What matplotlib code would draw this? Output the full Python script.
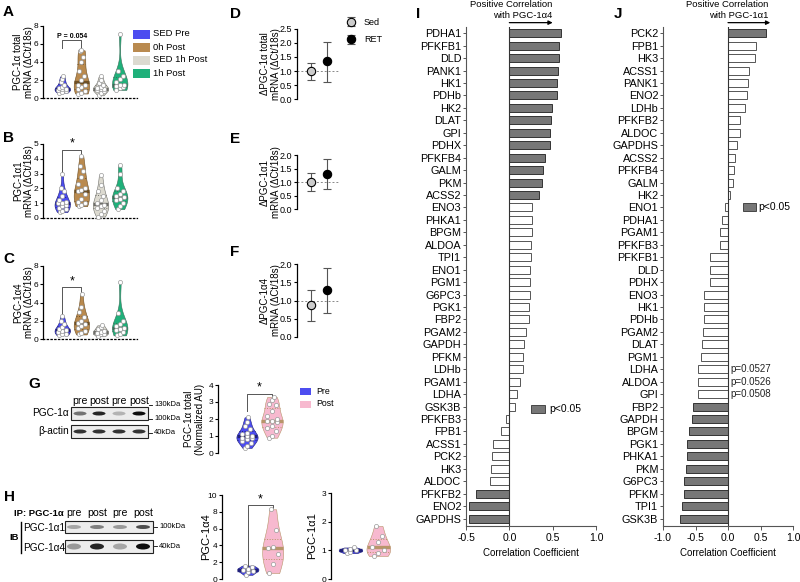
import numpy as np
import matplotlib
matplotlib.use("Agg")
import matplotlib.pyplot as plt
from matplotlib import mlab, cbook
from matplotlib.patches import Rectangle, Ellipse

plt.rcParams['font.family'] = ['Liberation Sans', 'DejaVu Sans']

# ---- qPCR violins (A-C), groups: SED Pre, 0h Post, SED 1h Post, 1h Post
group_names = ["SED Pre", "0h Post", "SED 1h Post", "1h Post"]
group_colors = ["#4d4df0", "#b98a4f", "#dcdad0", "#1fb07a"]
median_colors = ["#20207a", "#6e5026", "#6f6f6a", "#3d6e5a"]

a_total = [
    [0.6, 0.7, 0.8, 0.9, 1.0, 1.0, 1.1, 1.2, 1.5, 1.8, 2.1, 2.4],
    [0.5, 0.6, 0.8, 1.0, 1.2, 1.4, 1.5, 2.0, 2.5, 3.0, 4.0, 4.6, 5.2, 5.3],
    [0.3, 0.6, 0.8, 0.9, 1.0, 1.0, 1.1, 1.2, 1.4, 1.7, 2.0, 2.4],
    [0.9, 1.1, 1.2, 1.3, 1.4, 1.5, 1.8, 2.1, 2.5, 3.0, 7.1],
]
b_a1 = [
    [0.4, 0.5, 0.6, 0.7, 0.8, 0.9, 1.0, 1.0, 1.1, 1.2, 1.5, 1.8, 2.0, 3.0],
    [0.8, 0.9, 1.0, 1.1, 1.3, 1.6, 1.8, 1.9, 2.0, 2.3, 2.8, 3.2, 3.5, 4.2],
    [0.1, 0.3, 0.5, 0.7, 0.8, 0.9, 1.0, 1.2, 1.5, 1.8, 2.2, 2.9],
    [0.6, 0.8, 1.0, 1.2, 1.3, 1.4, 1.5, 1.6, 1.8, 2.0, 3.0, 3.6],
]
c_a4 = [
    [0.4, 0.5, 0.6, 0.8, 0.9, 1.0, 1.1, 1.3, 1.6, 2.0, 2.5],
    [0.5, 0.7, 0.9, 1.2, 1.4, 1.6, 1.8, 2.0, 2.4, 3.0, 3.5, 4.9],
    [0.3, 0.5, 0.6, 0.7, 0.8, 0.9, 1.1, 1.3, 1.5],
    [0.4, 0.6, 0.8, 1.0, 1.1, 1.2, 1.4, 1.6, 2.0, 2.9, 6.2],
]

# ---- delta mRNA (D-F): Sed, RET  (mean, lower, upper)
delta_mean = {"D": [1.0, 1.35], "E": [1.0, 1.3], "F": [0.87, 1.28]}
delta_low = {"D": [0.68, 0.62], "E": [0.68, 0.73], "F": [0.45, 0.67]}
delta_high = {"D": [1.3, 2.05], "E": [1.32, 1.87], "F": [1.28, 1.88]}

# ---- protein (G, H): Pre, Post
g_total = [
    [0.3, 0.4, 0.6, 0.7, 0.8, 0.9, 0.9, 1.0, 1.0, 1.1, 1.2, 1.4, 1.6, 1.8, 2.1],
    [0.9, 1.0, 1.3, 1.5, 1.6, 1.8, 1.9, 1.9, 2.0, 2.2, 2.5, 2.8, 2.9, 3.1, 3.3],
]
h_a4 = [[0.5, 0.8, 1.0, 1.1, 1.2, 1.4, 1.6], [0.7, 1.8, 3.0, 3.7, 3.8, 5.8, 8.3]]
h_a1 = [[0.9, 0.95, 1.0, 1.0, 1.05, 1.1], [0.8, 0.9, 1.0, 1.1, 1.3, 1.5, 1.85]]
pp_colors = ["#4d4df0", "#f7b9cf"]
pp_median = ["#20207a", "#b8956a"]

# blot band intensities (lanes: pre, post, pre, post)
g_pgc = [0.55, 0.85, 0.3, 0.95]
g_actin = [0.8, 0.8, 0.8, 0.8]
h_ib_a1 = [0.35, 0.5, 0.4, 0.7]
h_ib_a4 = [0.4, 0.85, 0.35, 0.95]

# ---- correlations (I: PGC-1a4, J: PGC-1a1)
i_genes = ["PDHA1", "PFKFB1", "DLD", "PANK1", "HK1", "PDHb", "HK2", "DLAT", "GPI", "PDHX",
           "PFKFB4", "GALM", "PKM", "ACSS2", "ENO3", "PHKA1", "BPGM", "ALDOA", "TPI1", "ENO1",
           "PGM1", "G6PC3", "PGK1", "FBP2", "PGAM2", "GAPDH", "PFKM", "LDHb", "PGAM1", "LDHA",
           "GSK3B", "PFKFB3", "FPB1", "ACSS1", "PCK2", "HK3", "ALDOC", "PFKFB2", "ENO2", "GAPDHS"]
i_r = [0.596, 0.577, 0.573, 0.558, 0.546, 0.546, 0.496, 0.477, 0.469, 0.469,
       0.415, 0.392, 0.373, 0.338, 0.265, 0.262, 0.258, 0.246, 0.246, 0.242,
       0.235, 0.235, 0.231, 0.223, 0.192, 0.173, 0.154, 0.154, 0.119, 0.092,
       0.069, -0.038, -0.096, -0.185, -0.204, -0.215, -0.223, -0.381, -0.465, -0.469]
i_sig = [1] * 14 + [0] * 23 + [1] * 3

j_genes = ["PCK2", "FPB1", "HK3", "ACSS1", "PANK1", "ENO2", "LDHb", "PFKFB2", "ALDOC", "GAPDHS",
           "ACSS2", "PFKFB4", "GALM", "HK2", "ENO1", "PDHA1", "PGAM1", "PFKFB3", "PFKFB1", "DLD",
           "PDHX", "ENO3", "HK1", "PDHb", "PGAM2", "DLAT", "PGM1", "LDHA", "ALDOA", "GPI",
           "FBP2", "GAPDH", "BPGM", "PGK1", "PHKA1", "PKM", "G6PC3", "PFKM", "TPI1", "GSK3B"]
j_r = [0.587, 0.434, 0.418, 0.316, 0.306, 0.286, 0.255, 0.189, 0.179, 0.138,
       0.107, 0.087, 0.077, 0.026, -0.041, -0.092, -0.122, -0.122, -0.270, -0.276,
       -0.276, -0.362, -0.367, -0.367, -0.383, -0.398, -0.413, -0.459, -0.464, -0.464,
       -0.541, -0.556, -0.602, -0.633, -0.638, -0.643, -0.673, -0.673, -0.714, -0.745]
j_sig = [1] + [0] * 29 + [1] * 10
j_pvals = {"LDHA": "p=0.0527", "ALDOA": "p=0.0526", "GPI": "p=0.0508"}

W, H = 800, 582
fig = plt.figure(figsize=(8, 5.82), dpi=100)


def box(l, t, r, b):
    return [l / W, 1 - b / H, (r - l) / W, (b - t) / H]


def kde(X, coords):
    return mlab.GaussianKDE(X, 'scott').evaluate(coords)


def violin(ax, data, pos, color, med_color, width=0.8):
    st = cbook.violin_stats([data], kde, points=100)[0]
    half = st['vals'] / st['vals'].max() * width / 2
    ax.fill_betweenx(st['coords'], pos - half, pos + half, facecolor=color,
                     edgecolor=med_color, lw=0.4, zorder=2)
    q1, med, q3 = np.percentile(data, [25, 50, 75])
    for q, ls, lw in [(q1, ':', 0.7), (q3, ':', 0.7), (med, '-', 2.4)]:
        hw = np.interp(q, st['coords'], half)
        ax.plot([pos - hw, pos + hw], [q, q], color=med_color, ls=ls, lw=lw, zorder=3,
                solid_capstyle='butt')
    vals = np.sort(data)
    for k, v in enumerate(vals):
        hw = np.interp(v, st['coords'], half)
        off = [-0.5, 0.0, 0.5][k % 3] * hw
        ax.scatter(pos + off, v, s=9, facecolor='white', edgecolor='#9a9a9a', lw=0.5,
                   zorder=4, clip_on=False)


def place_ylabel(ax, right_px, rect):
    # right edge of the rotated label at a given figure pixel x
    left_px = rect[0] * W
    width_px = rect[2] * W
    ax.yaxis.set_label_coords((right_px - left_px) / width_px, 0.5)


def style_violin_ax(ax, ylim, yticks, ylabel, xlim, fs=7):
    ax.set_xlim(*xlim)
    ax.set_ylim(*ylim)
    ax.set_yticks(yticks)
    ax.set_xticks([])
    for s in ['top', 'right']:
        ax.spines[s].set_visible(False)
    ax.spines['bottom'].set_linestyle((0, (1, 2)))
    ax.spines['bottom'].set_linewidth(0.9)
    ax.spines['left'].set_linewidth(0.9)
    ax.tick_params(axis='y', labelsize=6, length=2.5, width=0.8, pad=1)
    ax.set_ylabel(ylabel, fontsize=fs, linespacing=1.1)


def bracket(ax, x1, x2, y, d1, d2, text, fs=9, bold=False):
    ax.plot([x1, x1, x2, x2], [d1, y, y, d2], color='#555555', lw=0.7, clip_on=False)
    ax.text((x1 + x2) / 2, y, text, ha='center', va='bottom', fontsize=fs,
            fontweight='bold' if bold else 'normal')


# ---------- A, B, C
abc = [("A", box(43, 26, 137, 98), a_total, (0, 8), [0, 2, 4, 6, 8], "PGC-1α total\nmRNA (ΔCt/18s)"),
       ("B", box(43, 144, 137, 218), b_a1, (0, 5), [0, 1, 2, 3, 4, 5], "PGC-1α1\nmRNA (ΔCt/18s)"),
       ("C", box(43, 266, 137, 339), c_a4, (0, 8), [0, 2, 4, 6, 8], "PGC-1α4\nmRNA (ΔCt/18s)")]
axs = {}
for name, rect, data, ylim, yt, yl in abc:
    ax = fig.add_axes(rect)
    for k, d in enumerate(data):
        violin(ax, d, k + 1, group_colors[k], median_colors[k])
    style_violin_ax(ax, ylim, yt, yl, (0, 4.9))
    place_ylabel(ax, 34, rect)
    axs[name] = ax

bracket(axs["A"], 1, 2, 6.45, 5.6, 5.6, "P = 0.054", fs=5, bold=True)
bracket(axs["B"], 1, 2, 4.6, 3.0, 4.3, "*", fs=9)
bracket(axs["C"], 1, 2, 5.7, 2.6, 5.0, "*", fs=9)

# ---------- D, E, F
def_rects = {"D": (box(297, 29, 340, 99), 2.5, [0, 0.5, 1.0, 1.5, 2.0, 2.5], "ΔPGC-1α total\nmRNA (ΔCt/18s)"),
             "E": (box(297, 155, 340, 209), 2.0, [0, 0.5, 1.0, 1.5, 2.0], "ΔPGC-1α1\nmRNA (ΔCt/18s)"),
             "F": (box(297, 264, 340, 337), 2.0, [0, 0.5, 1.0, 1.5, 2.0], "ΔPGC-1α4\nmRNA (ΔCt/18s)")}
for name, (rect, ymax, yt, yl) in def_rects.items():
    ax = fig.add_axes(rect)
    ax.axhline(1.0, color='#888888', lw=0.7, ls=(0, (2, 2)), zorder=1)
    m = delta_mean[name]
    lo = delta_low[name]
    hi = delta_high[name]
    for k, (fc, lab) in enumerate([("#cccccc", "Sed"), ("black", "RET")]):
        ax.errorbar([k + 1], [m[k]], yerr=[[m[k] - lo[k]], [hi[k] - m[k]]], fmt='o', ms=6,
                    mfc=fc, mec='black', mew=0.8, ecolor='#555555', elinewidth=0.8,
                    capsize=3, capthick=0.8, zorder=3, label=lab)
    ax.set_xlim(0.1, 2.8)
    ax.set_ylim(0, ymax)
    ax.set_yticks(yt)
    ax.set_yticklabels(["%.1f" % v for v in yt])
    ax.set_xticks([])
    for s in ['top', 'right', 'bottom']:
        ax.spines[s].set_visible(False)
    ax.spines['left'].set_linewidth(0.9)
    ax.tick_params(axis='y', labelsize=6.5, length=2.5, width=0.8, pad=1)
    ax.set_ylabel(yl, fontsize=7, linespacing=1.1)
    place_ylabel(ax, 281, rect)
    if name == "D":
        ax.legend(loc='upper left', bbox_to_anchor=(0.95, 1.22), frameon=False, fontsize=6.5,
                  handletextpad=0.4, labelspacing=0.9, borderpad=0)

# ---------- G, H violins
def pp_axes(rect, data, ylim, yt, ylabel, xlim, right_px, fs=7, width=0.85):
    ax = fig.add_axes(rect)
    for k, d in enumerate(data):
        violin(ax, d, k + 1, pp_colors[k], pp_median[k], width=width)
    style_violin_ax(ax, ylim, yt, ylabel, xlim, fs=fs)
    ax.spines['bottom'].set_visible(False)
    place_ylabel(ax, right_px, rect)
    return ax

rG = box(218, 385, 287, 453)
axG = pp_axes(rG, g_total, (0, 4), [0, 1, 2, 3, 4],
              "PGC-1α total\n(Normalized AU)", (-0.16, 2.6), 205)
bracket(axG, 1, 2, 3.5, 2.5, 3.15, "*", fs=9)
rH4 = box(222, 495, 290, 579)
axH4 = pp_axes(rH4, h_a4, (0, 10), [0, 2, 4, 6, 8, 10],
               "PGC-1α4", (-0.05, 2.7), 211, fs=8)
bracket(axH4, 1, 2, 8.8, 1.3, 8.5, "*", fs=9)
rH1 = box(331, 493, 395, 579)
axH1 = pp_axes(rH1, h_a1, (0, 3), [0, 1, 2, 3],
               "PGC-1α1", (0.3, 2.6), 317, fs=8)

# ---------- I, J correlation bars
def corr_axes(rect, genes, r, sig, xlim, xticks, head):
    ax = fig.add_axes(rect)
    y = np.arange(len(genes))
    fc = ["#777777" if s else "white" for s in sig]
    ec = ["#333333" if s else "#555555" for s in sig]
    ax.barh(y, r, height=0.64, color=fc, edgecolor=ec, lw=0.7, zorder=2)
    ax.axvline(0, color='#333333', lw=0.8, zorder=3)
    ax.set_yticks(y)
    ax.set_yticklabels(genes)
    ax.set_ylim(len(genes) - 0.4, -0.5)
    ax.set_xlim(*xlim)
    ax.set_xticks(xticks)
    ax.set_xticklabels(["%.1f" % v for v in xticks])
    for s in ['top', 'right']:
        ax.spines[s].set_visible(False)
    ax.spines['left'].set_color('#555555')
    ax.spines['bottom'].set_color('#555555')
    ax.tick_params(axis='y', labelsize=7.8, length=2.5, width=0.7, pad=1, colors='#555555',
                   labelcolor='black')
    ax.tick_params(axis='x', labelsize=7.5, length=3, width=0.7, pad=2, colors='#555555',
                   labelcolor='black')
    ax.set_xlabel("Correlation Coefficient", fontsize=7, labelpad=4)
    ax.annotate('', xy=(head, -0.85), xytext=(0, -0.85), annotation_clip=False,
                arrowprops=dict(arrowstyle='-|>', lw=0.9, color='black', shrinkA=0, shrinkB=0,
                                mutation_scale=6))
    return ax

axI = corr_axes(box(466, 27, 596, 526), i_genes, i_r, i_sig, (-0.5, 1.0), [-0.5, 0.0, 0.5, 1.0], 0.5)
axI.text(0.5, -1.1, "Positive Correlation\nwith PGC-1α4", ha='right', va='bottom', fontsize=6.8,
         multialignment='right', linespacing=1.2)
axJ = corr_axes(box(663, 27, 793, 526), j_genes, j_r, j_sig, (-1.0, 1.0), [-1.0, -0.5, 0.0, 0.5, 1.0], 0.65)
axJ.text(0.62, -1.1, "Positive Correlation\nwith PGC-1α1", ha='right', va='bottom', fontsize=6.8,
         multialignment='right', linespacing=1.2)
for g, p in j_pvals.items():
    axJ.text(0.03, j_genes.index(g), p, ha='left', va='center', fontsize=7, color='#222222')

# ---------- overlay: panel letters, legends, blots
ov = fig.add_axes([0, 0, 1, 1])
ov.set_xlim(0, W)
ov.set_ylim(H, 0)
ov.axis('off')

for lab, x, y in [("A", 3, 12), ("B", 3, 138), ("C", 3, 259), ("D", 230, 14), ("E", 230, 139),
                  ("F", 230, 252), ("G", 28, 384), ("H", 4, 497), ("I", 416, 14), ("J", 614, 14)]:
    ov.text(x, y, lab, fontsize=11, fontweight='bold', va='center', ha='left')

for k, (nm, c) in enumerate(zip(group_names, group_colors)):
    yy = 34 + k * 13
    ov.add_patch(Rectangle((133, yy - 4.5), 17, 9, facecolor=c, edgecolor='none'))
    ov.text(153, yy, nm, fontsize=6.8, va='center')

for k, (nm, c) in enumerate(zip(["Pre", "Post"], pp_colors)):
    yy = 391 + k * 13
    ov.add_patch(Rectangle((300, yy - 3.5), 11, 7, facecolor=c, edgecolor='none'))
    ov.text(316, yy, nm, fontsize=6.3, va='center')

ov.add_patch(Rectangle((531, 405), 14, 8, facecolor='#777777', edgecolor='#333333', lw=0.6))
ov.text(549, 409, "p<0.05", fontsize=7.5, va='center')
ov.add_patch(Rectangle((743, 203), 13, 8, facecolor='#777777', edgecolor='#333333', lw=0.6))
ov.text(758, 207, "p<0.05", fontsize=7.5, va='center')


def blot(x0, x1, y0, y1, lanes, levels, bw=13, bh=4):
    ov.add_patch(Rectangle((x0, y0), x1 - x0, y1 - y0, facecolor='#ececec', edgecolor='#222222', lw=0.8))
    for lx, lv in zip(lanes, levels):
        g = 1 - lv
        ov.add_patch(Ellipse((lx, (y0 + y1) / 2), bw, bh, facecolor=(g, g, g), edgecolor='none'))


# G blot
g_lanes = [80, 99, 119, 139]
for lx, t in zip(g_lanes, ["pre", "post", "pre", "post"]):
    ov.text(lx, 401, t, fontsize=7.6, ha='center', va='center')
blot(71, 148, 407, 420, g_lanes, g_pgc)
blot(71, 148, 425, 438, g_lanes, g_actin)
ov.text(69, 413, "PGC-1α", fontsize=7.3, ha='right', va='center')
ov.text(69, 431, "β-actin", fontsize=7.3, ha='right', va='center')
for yy, t in [(405, "130kDa"), (419, "100kDa"), (433, "40kDa")]:
    ov.plot([149, 152], [yy, yy], color='k', lw=0.6)
    ov.text(154, yy, t, fontsize=5.5, va='center')

# H blot
h_lanes = [74, 97, 120, 143]
ov.text(14, 514, "IP: PGC-1α", fontsize=6.8, fontweight='bold', va='center')
for lx, t in zip(h_lanes, ["pre", "post", "pre", "post"]):
    ov.text(lx, 513, t, fontsize=7.6, ha='center', va='center')
blot(65, 153, 521, 533, h_lanes, h_ib_a1, bw=14, bh=4)
blot(65, 153, 540, 553, h_lanes, h_ib_a4, bw=14, bh=6)
ov.text(9, 537, "IB", fontsize=6.8, fontweight='bold', va='center')
ov.plot([21, 21], [522, 553], color='k', lw=1.0)
ov.text(23, 528, "PGC-1α1", fontsize=7.2, va='center')
ov.text(23, 548, "PGC-1α4", fontsize=7.2, va='center')
for yy, t in [(527, "100kDa"), (546, "40kDa")]:
    ov.plot([154, 157], [yy, yy], color='k', lw=0.6)
    ov.text(159, yy, t, fontsize=5.5, va='center')

fig.savefig("out.png", dpi=100)
